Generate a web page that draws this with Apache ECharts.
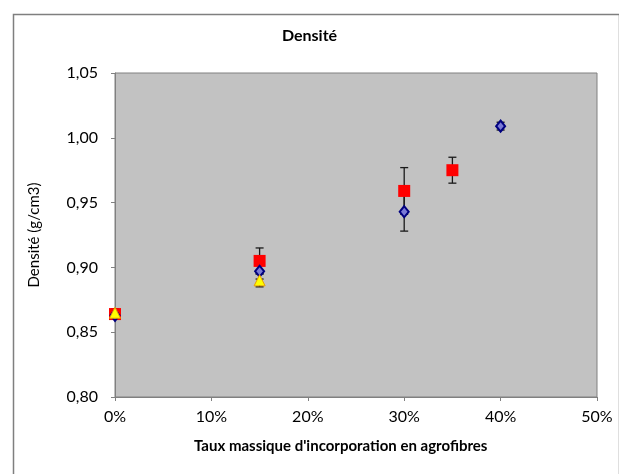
<!DOCTYPE html>
<html>
<head>
<meta charset="utf-8">
<script src="https://cdn.jsdelivr.net/npm/echarts@6/dist/echarts.min.js"></script>
<style>
  html, body { margin: 0; padding: 0; background: #fff; }
  #main { width: 619px; height: 474px; }
</style>
</head>
<body>
<div id="main"></div>
<script>
// valeurs
var redX = [0, 0.15, 0.30, 0.35];
var redY = [0.864, 0.905, 0.959, 0.975];
var redErr = [0.003, 0.010, 0.018, 0.010];

var blueX = [0, 0.15, 0.30, 0.40];
var blueY = [0.863, 0.897, 0.943, 1.009];
var blueErr = [0.003, 0.006, 0.015, 0.003];

var yellowX = [0, 0.15];
var yellowY = [0.865, 0.890];
var yellowErr = [0.003, 0.005];

var xTicks = [0, 0.1, 0.2, 0.3, 0.4, 0.5];
var yTicks = [0.80, 0.85, 0.90, 0.95, 1.00, 1.05];

function pts(xs, ys) {
  return xs.map(function (x, i) { return [x, ys[i]]; });
}
function errs(xs, ys, es) {
  return xs.map(function (x, i) { return [x, ys[i] - es[i], ys[i] + es[i]]; });
}

function errorBar(params, api) {
  var lo = api.coord([api.value(0), api.value(1)]);
  var hi = api.coord([api.value(0), api.value(2)]);
  var w = 4;
  var st = { stroke: '#1a1a1a', lineWidth: 1.3 };
  return {
    type: 'group',
    children: [
      { type: 'line', shape: { x1: lo[0], y1: lo[1], x2: hi[0], y2: hi[1] }, style: st },
      { type: 'line', shape: { x1: lo[0] - w, y1: lo[1], x2: lo[0] + w, y2: lo[1] }, style: st },
      { type: 'line', shape: { x1: hi[0] - w, y1: hi[1], x2: hi[0] + w, y2: hi[1] }, style: st }
    ]
  };
}

var font = 'Lato, "Open Sans", sans-serif';
var myChart = echarts.init(document.getElementById('main'));

var option = {
  backgroundColor: '#ffffff',
  animation: false,
  title: {
    text: 'Densité',
    left: 'center',
    top: 23,
    textStyle: { fontFamily: font, fontSize: 16, fontWeight: 'bold', color: '#000' }
  },
  graphic: [
    {
      type: 'rect', left: 11, top: 12,
      shape: { width: 606, height: 480 },
      style: { fill: 'none', stroke: '#7f7f7f', lineWidth: 1.5 },
      z: -1
    },
    {
      type: 'text', left: 194, top: 439,
      style: { text: "Taux massique d'incorporation en agrofibres", font: 'bold 15px ' + font, fill: '#000' }
    },
    {
      type: 'text', x: 34, y: 235, rotation: Math.PI / 2,
      style: { text: 'Densité (g/cm3)', font: '15px ' + font, fill: '#000', align: 'center', verticalAlign: 'middle' }
    }
  ],
  grid: {
    left: 115, right: 22, top: 73, bottom: 77,
    show: true,
    backgroundColor: '#c2c2c2',
    borderColor: '#808080',
    borderWidth: 1
  },
  xAxis: {
    type: 'value',
    min: xTicks[0],
    max: xTicks[xTicks.length - 1],
    interval: 0.1,
    splitLine: { show: false },
    axisLine: { lineStyle: { color: '#808080' } },
    axisTick: { show: true, length: 4, lineStyle: { color: '#808080' } },
    axisLabel: {
      margin: 12,
      fontFamily: font, fontSize: 16, color: '#000',
      formatter: function (v) { return Math.round(v * 100) + '%'; }
    }
  },
  yAxis: {
    type: 'value',
    min: yTicks[0],
    max: yTicks[yTicks.length - 1],
    interval: 0.05,
    splitLine: { show: false },
    axisLine: { show: true, lineStyle: { color: '#808080' } },
    axisTick: { show: true, length: 4, lineStyle: { color: '#808080' } },
    axisLabel: {
      margin: 17,
      fontFamily: font, fontSize: 16, color: '#000',
      formatter: function (v) { return v.toFixed(2).replace('.', ','); }
    }
  },
  series: [
    { type: 'custom', renderItem: errorBar, data: errs(redX, redY, redErr), z: 1 },
    { type: 'custom', renderItem: errorBar, data: errs(blueX, blueY, blueErr), z: 1 },
    { type: 'custom', renderItem: errorBar, data: errs(yellowX, yellowY, yellowErr), z: 1 },
    {
      name: 'rouge', type: 'scatter', data: pts(redX, redY), z: 3,
      symbol: 'rect', symbolSize: 12,
      itemStyle: { color: '#ff0000', opacity: 1 }
    },
    {
      name: 'bleu', type: 'scatter', data: pts(blueX, blueY), z: 4,
      symbol: 'diamond', symbolSize: [9, 11],
      itemStyle: { color: '#7a7ad6', borderColor: '#000080', borderWidth: 2, opacity: 1 }
    },
    {
      name: 'jaune', type: 'scatter', data: pts(yellowX, yellowY), z: 5,
      symbol: 'triangle', symbolSize: 11,
      itemStyle: { color: '#ffff00', borderColor: '#e8a000', borderWidth: 1, opacity: 1 }
    }
  ]
};

window.onresize = function () {
  myChart.resize();
};
myChart.setOption(option);
</script>
</body>
</html>
